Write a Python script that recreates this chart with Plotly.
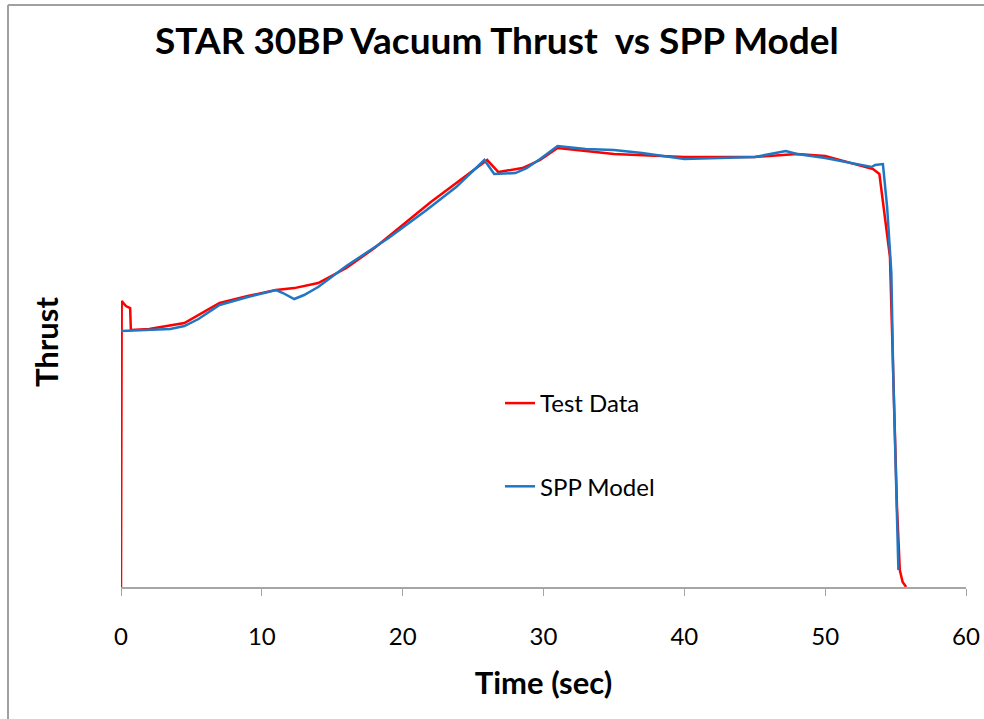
import plotly.graph_objects as go

# Test Data (time in sec, thrust in arbitrary lbf-like units)
test_time = [0.0, 0.0, 0.05, 0.35, 0.65, 0.7, 2.0, 4.5, 7.0, 9.0, 11.0, 12.3, 14.0, 16.0, 18.0,
             20.0, 22.0, 24.0, 25.5, 26.0, 26.8, 28.5, 29.76, 31.0, 33.0, 35.0, 40.0, 45.0,
             48.0, 50.0, 53.4, 53.85, 54.6, 54.85, 55.1, 55.3, 55.5, 55.75]
test_thrust = [0, 16000, 17509, 17203, 17080, 15734, 15795, 16162, 17386, 17815, 18182, 18300,
               18611, 19529, 20754, 22162, 23570, 24855, 25835, 26141, 25406, 25651, 26141,
               26876, 26690, 26508, 26325, 26325, 26508, 26386, 25590, 25284, 20203, 13101,
               4898, 1041, 306, 0]

# SPP Model
spp_time = [0.0, 1.5, 3.5, 4.5, 5.5, 7.0, 9.0, 11.0, 11.5, 12.3, 13.0, 14.0, 16.0, 19.0, 21.7,
            23.8, 25.8, 26.5, 28.0, 28.8, 29.76, 31.0, 33.0, 35.0, 37.0, 40.0, 45.0, 47.2,
            48.0, 50.0, 53.3, 53.55, 54.1, 54.4, 54.7, 54.83, 55.04, 55.2]
spp_thrust = [15672, 15734, 15795, 15978, 16407, 17264, 17754, 18182, 17999, 17631, 17876,
              18366, 19652, 21366, 23080, 24488, 26141, 25284, 25345, 25651, 26202, 26998,
              26814, 26753, 26570, 26202, 26325, 26692, 26508, 26264, 25712, 25835, 25896,
              23264, 19223, 13101, 6979, 1041]

x_ticks = [0, 10, 20, 30, 40, 50, 60]

W, H = 984, 719
L, R, T, B = 121, 18, 97, 132
pw, ph = W - L - R, H - T - B

FONT = "Lato"

fig = go.Figure()
fig.add_trace(go.Scatter(x=test_time, y=test_thrust, mode="lines", name="Test Data",
                         legendgroup="a", line=dict(color="#ff0000", width=2.5)))
fig.add_trace(go.Scatter(x=spp_time, y=spp_thrust, mode="lines", name="SPP Model",
                         legendgroup="b", line=dict(color="#1f77c4", width=2.5)))

def px_x(p):
    return (p - L) / pw

def px_y(p):
    return (H - B - p) / ph

fig.update_layout(
    width=W, height=H, autosize=False,
    margin=dict(l=L, r=R, t=T, b=B, autoexpand=False),
    paper_bgcolor="white", plot_bgcolor="white",
    font=dict(family=FONT, color="black"),
    title=dict(text="<b>STAR 30BP Vacuum Thrust  vs SPP Model</b>", x=0.505, xanchor="center",
               y=1 - 41 / H, yanchor="middle", font=dict(size=37, family=FONT)),
    xaxis=dict(range=[0, 60], tickvals=x_ticks, ticktext=[str(v) for v in x_ticks],
               showgrid=False, zeroline=False, showline=True, linecolor="#a6a6a6", linewidth=1.5,
               ticks="outside", ticklen=7, tickcolor="#a6a6a6", tickfont=dict(size=24),
               ticklabelstandoff=20, automargin=False,
               title=dict(text="<b>Time (sec)</b>", font=dict(size=31), standoff=24)),
    yaxis=dict(range=[0, 30000], showgrid=False, zeroline=False, showline=False,
               showticklabels=False, ticks="", automargin=False,
               title=dict(text="<b>Thrust</b>", font=dict(size=31), standoff=52)),
    legend=dict(x=px_x(500), y=px_y(381), xanchor="left", yanchor="top",
                font=dict(size=24), tracegroupgap=49, bgcolor="rgba(0,0,0,0)",
                itemwidth=30),
    showlegend=True,
)

# outer frame lines (top and left)
fig.add_shape(type="line", xref="paper", yref="paper",
              x0=px_x(8), x1=px_x(W + 5), y0=px_y(5), y1=px_y(5),
              line=dict(color="#a0a0a0", width=2))
fig.add_shape(type="line", xref="paper", yref="paper",
              x0=px_x(8), x1=px_x(8), y0=px_y(5), y1=px_y(H + 5),
              line=dict(color="#a0a0a0", width=2))

fig.write_html("out.html",
               config={"displayModeBar": False, "responsive": False},
               post_script="document.body.style.margin='0px';document.body.style.overflow='hidden';")
